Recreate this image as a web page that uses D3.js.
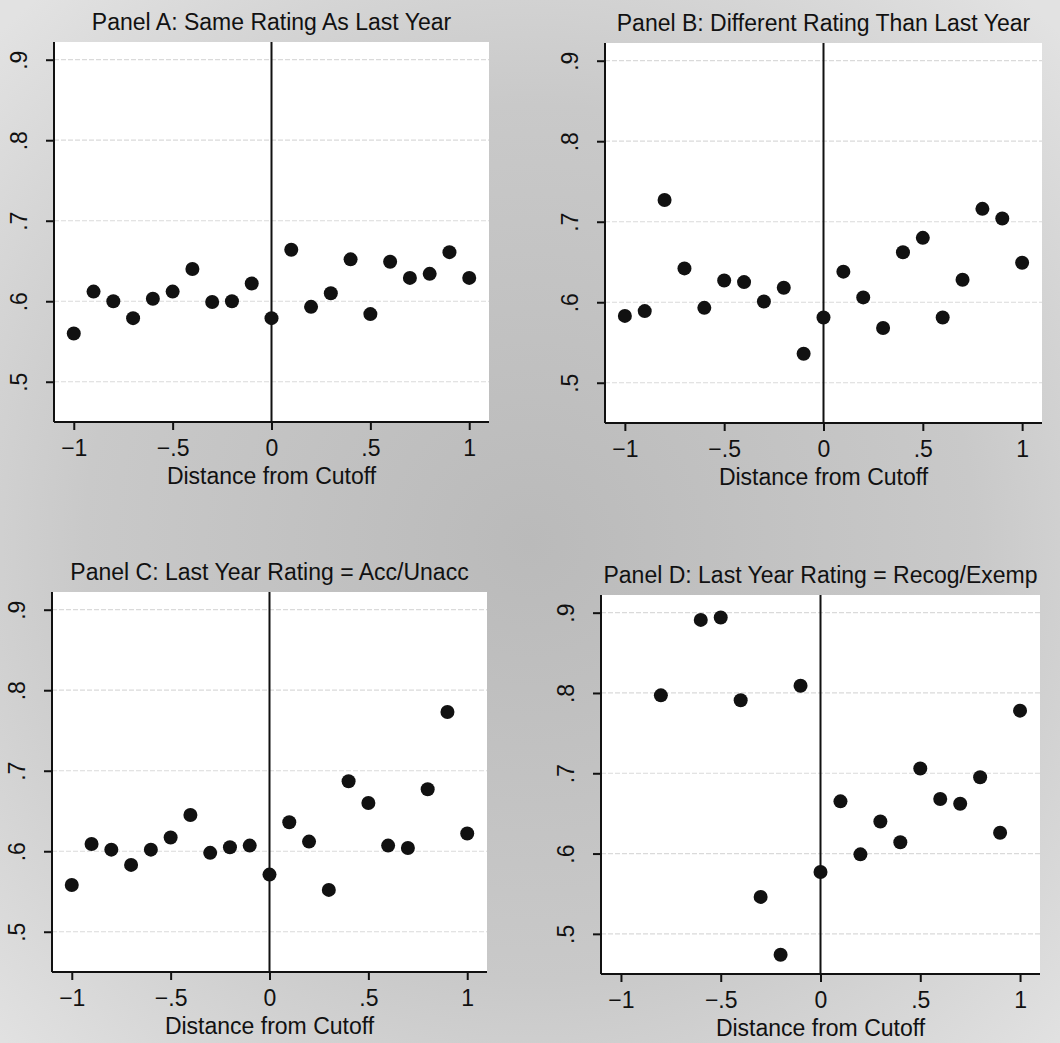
<!DOCTYPE html>
<html>
<head>
<meta charset="utf-8">
<script src="https://cdn.jsdelivr.net/npm/d3@7"></script>
<style>
  html, body { margin: 0; padding: 0; }
  svg { display: block; }
  text { font-family: "Liberation Sans", Arial, sans-serif; fill: #111; }
</style>
</head>
<body>
<svg id="chart" width="1060" height="1043"></svg>
<script>
const xValues = [-1, -0.9, -0.8, -0.7, -0.6, -0.5, -0.4, -0.3, -0.2, -0.1, 0,
                 0.1, 0.2, 0.3, 0.4, 0.5, 0.6, 0.7, 0.8, 0.9, 1];

const panelA = [0.560, 0.612, 0.600, 0.579, 0.603, 0.612, 0.640, 0.599, 0.600, 0.622, 0.579,
                0.664, 0.593, 0.610, 0.652, 0.584, 0.649, 0.629, 0.634, 0.661, 0.629];
const panelB = [0.583, 0.589, 0.727, 0.642, 0.593, 0.627, 0.625, 0.601, 0.618, 0.536, 0.581,
                0.638, 0.606, 0.568, 0.662, 0.680, 0.581, 0.628, 0.716, 0.704, 0.649];
const panelC = [0.558, 0.609, 0.602, 0.583, 0.602, 0.617, 0.645, 0.598, 0.605, 0.607, 0.571,
                0.636, 0.612, 0.552, 0.687, 0.660, 0.607, 0.604, 0.677, 0.773, 0.622];
const panelD = [null, null, 0.797, null, 0.891, 0.894, 0.791, 0.546, 0.474, 0.809, 0.577,
                0.665, 0.599, 0.640, 0.614, 0.706, 0.668, 0.662, 0.695, 0.626, 0.778];

const titles = [
  "Panel A: Same Rating As Last Year",
  "Panel B: Different Rating Than Last Year",
  "Panel C: Last Year Rating = Acc/Unacc",
  "Panel D: Last Year Rating = Recog/Exemp"
];

const xTicks = [-1, -0.5, 0, 0.5, 1];
const xTickLabels = ["\u22121", "\u2212.5", "0", ".5", "1"];
const yTicks = [0.5, 0.6, 0.7, 0.8, 0.9];
const yTickLabels = [".5", ".6", ".7", ".8", ".9"];
const xTitle = "Distance from Cutoff";

// plot-region boxes (the scan is not perfectly aligned)
const boxes = [
  { left: 54, top: 42, right: 489, bottom: 422 },
  { left: 605, top: 43, right: 1042, bottom: 423 },
  { left: 52, top: 592, right: 487, bottom: 972 },
  { left: 601, top: 595, right: 1040, bottom: 974 }
];

const svg = d3.select("#chart");

// scanned grey paper
const defs = svg.append("defs");
const grad = defs.append("radialGradient")
  .attr("id", "paper")
  .attr("cx", "50%").attr("cy", "52%").attr("r", "70%");
grad.append("stop").attr("offset", "0%").attr("stop-color", "#bababa");
grad.append("stop").attr("offset", "60%").attr("stop-color", "#c9c9c9");
grad.append("stop").attr("offset", "100%").attr("stop-color", "#e2e2e2");

svg.append("rect")
  .attr("width", 1060)
  .attr("height", 1043)
  .attr("fill", "url(#paper)");

function drawPanel(values, title, box) {
  const w = box.right - box.left;
  const h = box.bottom - box.top;

  const g = svg.append("g")
    .attr("transform", `translate(${box.left}, ${box.top})`);

  const x = d3.scaleLinear().domain([-1.1, 1.1]).range([0, w]);
  const y = d3.scaleLinear().domain([0.45, 0.922]).range([h, 0]);

  g.append("rect")
    .attr("width", w)
    .attr("height", h)
    .attr("fill", "#fff");

  // faint horizontal grid
  g.selectAll(".grid")
    .data(yTicks)
    .enter()
    .append("line")
    .attr("class", "grid")
    .attr("x1", 0)
    .attr("x2", w)
    .attr("y1", d => y(d))
    .attr("y2", d => y(d))
    .attr("stroke", "#dadada")
    .attr("stroke-width", 1.2)
    .attr("stroke-dasharray", "5,2");

  // cutoff line
  g.append("line")
    .attr("x1", x(0))
    .attr("x2", x(0))
    .attr("y1", 0)
    .attr("y2", h)
    .attr("stroke", "#111")
    .attr("stroke-width", 2);

  const pts = xValues
    .map((d, i) => ({ x: d, y: values[i] }))
    .filter(d => d.y !== null);

  g.selectAll("circle")
    .data(pts)
    .enter()
    .append("circle")
    .attr("cx", d => x(d.x))
    .attr("cy", d => y(d.y))
    .attr("r", 7)
    .attr("fill", "#111");

  const xAxis = g.append("g")
    .attr("transform", `translate(0, ${h})`)
    .call(d3.axisBottom(x)
      .tickValues(xTicks)
      .tickFormat((d, i) => xTickLabels[i])
      .tickSizeInner(8)
      .tickSizeOuter(0)
      .tickPadding(10));

  const yAxis = g.append("g")
    .call(d3.axisLeft(y)
      .tickValues(yTicks)
      .tickFormat((d, i) => yTickLabels[i])
      .tickSizeInner(8)
      .tickSizeOuter(0));

  [xAxis, yAxis].forEach(a => {
    a.select(".domain").attr("stroke", "#111").attr("stroke-width", 2);
    a.selectAll(".tick line").attr("stroke", "#111").attr("stroke-width", 2);
    a.selectAll("text")
      .attr("font-size", "23px")
      .attr("font-family", "'Liberation Sans', Arial, sans-serif")
      .attr("fill", "#111");
  });

  // stretch the axis lines over the full box
  xAxis.select(".domain").attr("d", `M0,0H${w}`);
  yAxis.select(".domain").attr("d", `M0,0V${h}`);

  // Stata style: y labels turned on their side
  yAxis.selectAll(".tick text")
    .attr("x", null)
    .attr("dy", null)
    .attr("text-anchor", "middle")
    .attr("transform", "translate(-27, 0) rotate(-90)");

  g.append("text")
    .attr("x", w / 2)
    .attr("y", h + 62)
    .attr("text-anchor", "middle")
    .attr("font-size", "23px")
    .text(xTitle);

  g.append("text")
    .attr("x", w / 2)
    .attr("y", -12)
    .attr("text-anchor", "middle")
    .attr("font-size", "23px")
    .text(title);
}

[panelA, panelB, panelC, panelD].forEach((vals, i) => {
  drawPanel(vals, titles[i], boxes[i]);
});
</script>
</body>
</html>
